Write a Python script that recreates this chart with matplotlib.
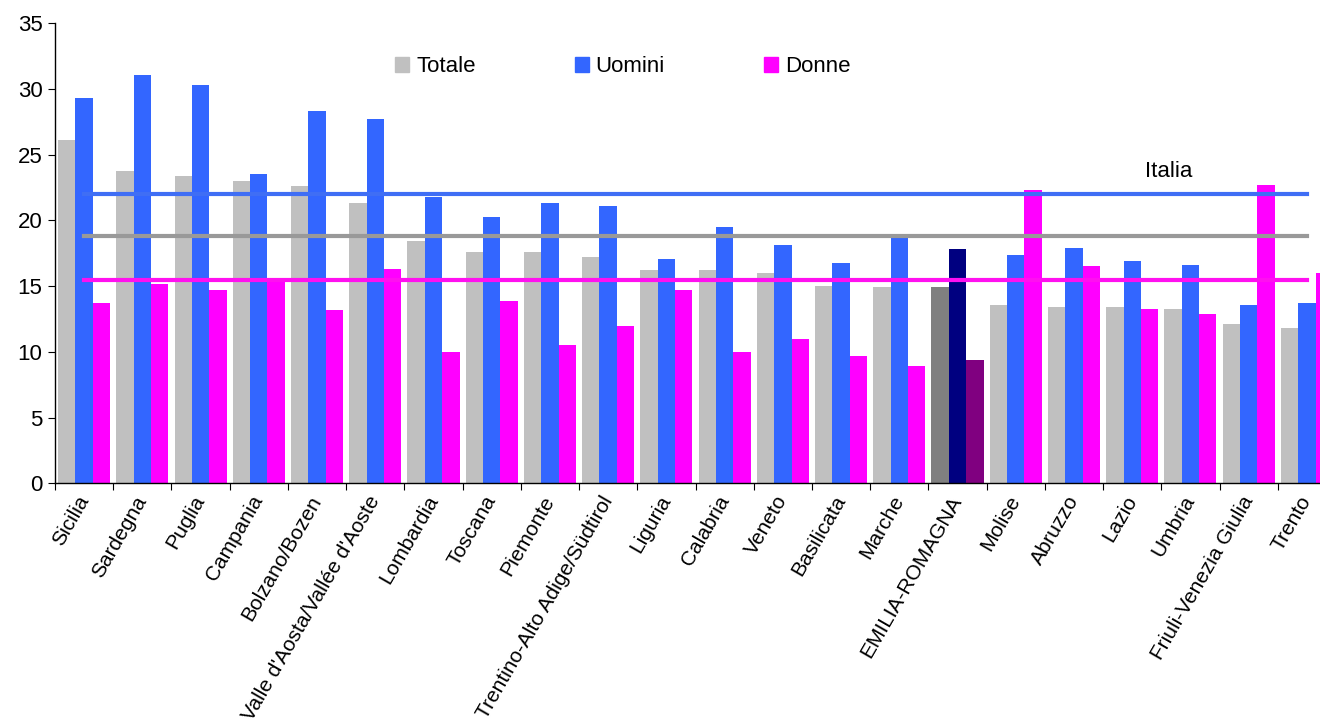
import matplotlib
matplotlib.use("Agg")
import matplotlib.pyplot as plt
from matplotlib.patches import Patch
import numpy as np

plt.rcParams["font.family"] = ["Liberation Sans", "DejaVu Sans"]

# Dati per regione
regioni = ["Sicilia", "Sardegna", "Puglia", "Campania", "Bolzano/Bozen",
           "Valle d'Aosta/Vallée d'Aoste", "Lombardia", "Toscana", "Piemonte",
           "Trentino-Alto Adige/Südtirol", "Liguria", "Calabria", "Veneto",
           "Basilicata", "Marche", "EMILIA-ROMAGNA", "Molise", "Abruzzo",
           "Lazio", "Umbria", "Friuli-Venezia Giulia", "Trento"]
totale = [26.1, 23.8, 23.4, 23.0, 22.6, 21.3, 18.4, 17.6, 17.6, 17.2, 16.2,
          16.2, 16.0, 15.0, 14.9, 14.9, 13.6, 13.4, 13.4, 13.3, 12.1, 11.8]
uomini = [29.3, 31.1, 30.3, 23.5, 28.3, 27.7, 21.8, 20.3, 21.3, 21.1, 17.1,
          19.5, 18.1, 16.8, 19.0, 17.8, 17.4, 17.9, 16.9, 16.6, 13.6, 13.7]
donne = [13.7, 15.2, 14.7, 15.6, 13.2, 16.3, 10.0, 13.9, 10.5, 12.0, 14.7,
         10.0, 11.0, 9.7, 8.9, 9.4, 22.3, 16.5, 13.3, 12.9, 22.7, 16.0]

# Valori Italia
italia_totale = 18.8
italia_uomini = 22.0
italia_donne = 15.5

evidenzia = "EMILIA-ROMAGNA"

fig = plt.figure(figsize=(13.2, 7.19), dpi=100)
ax = fig.add_axes([55 / 1320, 1 - 483.3 / 719, 1281 / 1320, 460 / 719])

x = np.arange(len(regioni))
w = 0.298

col_t = ["#808080" if r == evidenzia else "#C0C0C0" for r in regioni]
col_u = ["#000080" if r == evidenzia else "#3366FF" for r in regioni]
col_d = ["#800080" if r == evidenzia else "#FF00FF" for r in regioni]

ax.bar(x - w, totale, w, color=col_t, zorder=2)
ax.bar(x, uomini, w, color=col_u, zorder=2)
ax.bar(x + w, donne, w, color=col_d, zorder=2)

# Linee Italia
ax.plot([x[0], x[-1]], [italia_uomini] * 2, color="#3F6EF5", lw=3, zorder=3)
ax.plot([x[0], x[-1]], [italia_totale] * 2, color="#999999", lw=3, zorder=3)
ax.plot([x[0], x[-1]], [italia_donne] * 2, color="#FF10F0", lw=3, zorder=3)
ax.text(18.22, 23.3, "Italia", fontsize=16, va="baseline", ha="left")

ax.set_xlim(-0.5, len(regioni) - 0.5)
ax.set_ylim(0, 35)
ax.set_yticks(range(0, 36, 5))
ax.tick_params(axis="y", labelsize=16, length=5, direction="out", pad=4)

ax.set_xticks(np.arange(len(regioni) + 1) - 0.5)
ax.set_xticklabels([])
ax.set_xticks(x, minor=True)
ax.set_xticklabels(regioni, minor=True, rotation=60, ha="right", va="center",
                   rotation_mode="anchor", fontsize=15)
ax.tick_params(axis="x", which="major", length=5, direction="out")
ax.tick_params(axis="x", which="minor", length=0, pad=10)

for s in ["top", "right"]:
    ax.spines[s].set_visible(False)
ax.spines["left"].set_linewidth(1)
ax.spines["bottom"].set_linewidth(1)

handles = [Patch(color="#C0C0C0", label="Totale"),
           Patch(color="#3366FF", label="Uomini"),
           Patch(color="#FF00FF", label="Donne")]
fig.legend(handles=handles, loc="upper left", bbox_to_anchor=(395 / 1320, 1 - 56 / 719),
           ncol=3, frameon=False, fontsize=16, borderpad=0, borderaxespad=0,
           handlelength=0.65, handleheight=0.65, handletextpad=0.3,
           columnspacing=4.45)

fig.savefig("out.png", dpi=100)
